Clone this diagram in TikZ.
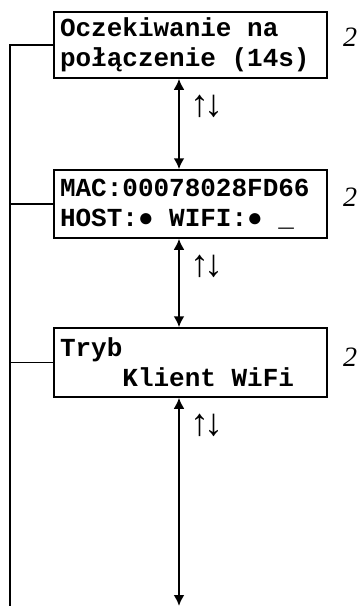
\documentclass[tikz,border=0pt]{standalone}
\usepackage{fontspec}
\newfontfamily\lcdfont[BoldFont={Liberation Mono Bold}]{Liberation Mono}
\newfontfamily\refont{Liberation Serif}
\newcommand\msp{\makebox[0.6em]{}}
\newcommand\updn{↑\kern-0.14em↓}
\usetikzlibrary{arrows.meta}
\begin{document}
\begin{tikzpicture}[x=1pt,y=-1pt,
  screen/.style={draw, line width=1.5pt, minimum width=273pt, text width=261pt,
    inner xsep=6pt, inner ysep=0pt, align=left,
    font=\lcdfont\bfseries\fontsize{26}{30}\selectfont},
  navarrow/.style={{Latex[length=11pt,width=11pt]}-{Latex[length=11pt,width=11pt]}, line width=2.2pt},
  navlabel/.style={font=\refont\fontsize{38}{38}\selectfont, inner sep=0pt},
  pagelabel/.style={font=\refont\itshape\fontsize{28}{28}\selectfont, inner sep=0pt},
  link/.style={line width=1.5pt}
]
\useasboundingbox (0,0) rectangle (358,606);

\node[screen, minimum height=66pt] (b1) at (190.5,45) {Oczekiwanie\msp na\\połączenie\msp(14s)};
\node[screen, minimum height=68pt] (b2) at (190.5,204) {MAC:00078028FD66\\HOST:●\msp WIFI:●\msp\_};
\node[screen, minimum height=69pt] (b3) at (190.5,362.5) {Tryb\\\msp\msp\msp\msp Klient\msp WiFi};

\coordinate (bot) at (179,606);
\coordinate (lbot) at (10,606);

\draw[navarrow] ([xshift=-11.5pt]b1.south) -- ([xshift=-11.5pt]b2.north);
\draw[navarrow] ([xshift=-11.5pt]b2.south) -- ([xshift=-11.5pt]b3.north);
\draw[navarrow] ([xshift=-11.5pt]b3.south) -- (bot);

\node[navlabel] (n1) at (207,106) {\updn};
\node[navlabel] (n2) at (207,266) {\updn};
\node[navlabel] (n3) at (207,425) {\updn};

\node[pagelabel] (p1) at (350,37) {2};
\node[pagelabel] (p2) at (350,197) {2};
\node[pagelabel] (p3) at (350,357) {2};

\draw[link] (b1.west) -| (lbot);
\draw[link] (b2.west) -- (b2.west -| lbot);
\draw[link] (b3.west) -- (b3.west -| lbot);
\end{tikzpicture}
\end{document}
